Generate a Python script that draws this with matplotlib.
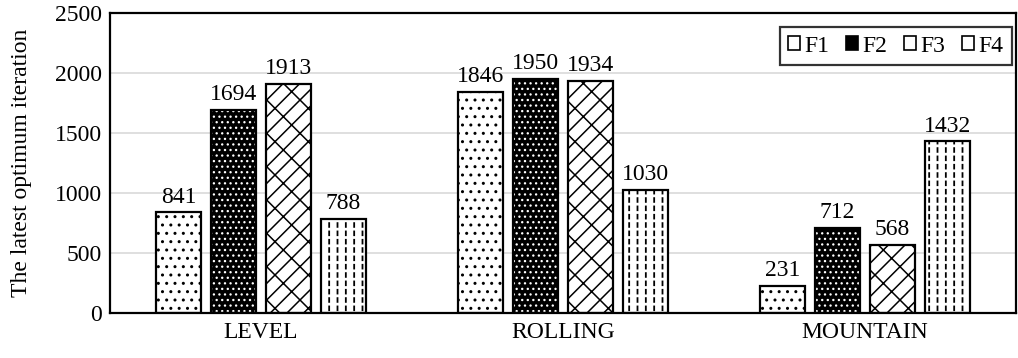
import matplotlib.pyplot as plt
import numpy as np

plt.rcParams['font.family'] = ['Liberation Serif', 'DejaVu Serif']

terrains = ["LEVEL", "ROLLING", "MOUNTAIN"]
series = ["F1", "F2", "F3", "F4"]
f1 = [841, 1846, 231]
f2 = [1694, 1950, 712]
f3 = [1913, 1934, 568]
f4 = [788, 1030, 1432]
values = [f1, f2, f3, f4]

# fill colour, hatch pattern, hatch colour, hatch line width
styles = [
    ("white", "..", "black", 1.0),
    ("black", "...", "white", 0.9),
    ("white", "/x", "black", 1.1),
    ("white", "||", "black", 1.3),
]

fig, ax = plt.subplots(figsize=(10.18, 3.58), dpi=100)
fig.subplots_adjust(left=0.108, right=0.998, top=0.963, bottom=0.125)

x = np.arange(len(terrains))
width = 0.15
step = 0.182
fs = 17
handles = []
for i, (name, vals) in enumerate(zip(series, values)):
    fc, hatch, hc, hlw = styles[i]
    pos = x + (i - 1.5) * step
    with plt.rc_context({'hatch.linewidth': hlw}):
        ax.bar(pos, vals, width, color=fc, edgecolor=hc, hatch=hatch, linewidth=0, zorder=2)
    if name == "F4":
        # white bands cut the vertical lines into dashes
        with plt.rc_context({'hatch.linewidth': 2.0}):
            ax.bar(pos, vals, width, color="none", edgecolor="white", hatch="--",
                   linewidth=0, zorder=2.5)
    ax.bar(pos, vals, width, color="none", edgecolor="black", linewidth=1.6, zorder=3)
    for p, v in zip(pos, vals):
        ax.text(p, v + 40, str(v), ha="center", va="bottom", fontsize=fs)
    with plt.rc_context({'hatch.linewidth': 0.8}):
        h = plt.Rectangle((0, 0), 1, 1, facecolor=fc, edgecolor="black", linewidth=1.2)
    handles.append(h)

ax.set_xlim(-0.5, 2.5)
ax.set_ylim(0, 2500)
ax.set_yticks(range(0, 2501, 500))
ax.set_xticks(x)
ax.set_xticklabels(terrains)
ax.tick_params(axis="both", length=0, labelsize=fs, pad=6)
ax.set_ylabel("The latest optimum iteration", fontsize=fs, labelpad=16)
ax.yaxis.grid(True, color="#d9d9d9", linewidth=1.2, zorder=0)
ax.set_axisbelow(True)
for s in ax.spines.values():
    s.set_linewidth(1.6)
    s.set_color("black")

leg = ax.legend(handles, series, loc="upper right", ncol=4, fontsize=fs, frameon=True,
                fancybox=False, edgecolor="black", handlelength=0.5, handleheight=0.5,
                handletextpad=0.2, columnspacing=0.7, borderpad=0.35,
                bbox_to_anchor=(0.9955, 0.953), borderaxespad=0)
leg.get_frame().set_linewidth(1.6)

fig.savefig("out.png", dpi=100)
